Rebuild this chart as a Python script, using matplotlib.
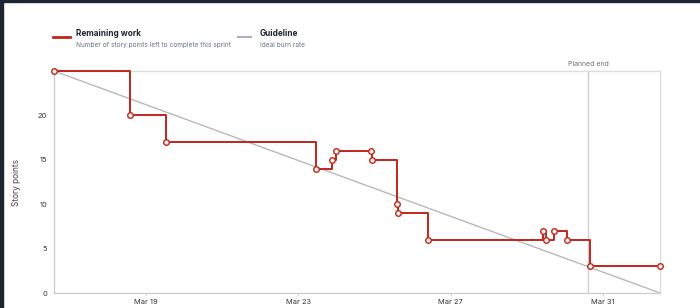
import matplotlib
matplotlib.use("Agg")
import matplotlib.pyplot as plt
import matplotlib.dates as mdates
from matplotlib.patches import Rectangle
from matplotlib.lines import Line2D
import numpy as np
from datetime import datetime, timedelta

# sprint data (days after Mar 16 00:00, story points)
sprint_start = datetime(2024, 3, 16)
work_days = [0.585, 2.58, 3.525, 7.45, 7.875, 7.99, 8.915, 8.93, 9.595, 9.61,
             10.40, 13.43, 13.49, 13.71, 14.06, 14.65, 16.49]
work_points = [25, 20, 17, 14, 15, 16, 16, 15, 10, 9, 6, 7, 6, 7, 6, 3, 3]
guide_days = [0.585, 16.49]
guide_points = [25, 0]
planned_end_day = 14.60
tick_dates = ["2024-03-19", "2024-03-23", "2024-03-27", "2024-03-31"]
y_ticks = [0, 5, 10, 15, 20]

red = "#c0261b"
grey_txt = "#6b7480"

plt.rcParams["font.family"] = ["Inter", "DejaVu Sans"]

def to_dt(d):
    return sprint_start + timedelta(days=d)

work_x = [to_dt(d) for d in work_days]
guide_x = [to_dt(d) for d in guide_days]

fig = plt.figure(figsize=(7, 3.08), dpi=100)
ax = fig.add_axes([54 / 700, 15 / 308, 606 / 700, 222 / 308])

ax.plot(guide_x, guide_points, color="#b8b8b8", lw=1.0, zorder=2)
ax.axvline(to_dt(planned_end_day), color="#d0d0d0", lw=1.0, zorder=1)
ax.plot(work_x, work_points, drawstyle="steps-post", color=red, lw=1.4,
        zorder=3, clip_on=False)
ax.plot(work_x, work_points, ls="none", marker="o", ms=4, mfc="#fdf1ee",
        mec=red, mew=1.0, zorder=4, clip_on=False)

ax.set_xlim(work_x[0], work_x[-1])
ax.set_ylim(0, 25)
ax.set_yticks(y_ticks)
ax.set_xticks([mdates.datestr2num(t) for t in tick_dates])
ax.xaxis.set_major_formatter(mdates.DateFormatter("%b %d"))
ax.tick_params(axis="both", labelsize=5.4, colors="#333333", length=2,
               width=0.6, pad=2)
ax.tick_params(axis="x", color="#cccccc")
ax.tick_params(axis="y", length=0, pad=5)
for s in ax.spines.values():
    s.set_color("#dddddd")
    s.set_linewidth(1.0)
ax.spines["left"].set_color("#cfcfcf")
ax.spines["bottom"].set_color("#cfcfcf")
ax.set_ylabel("Story points", fontsize=6, color="#444444", labelpad=12)

ax.text(to_dt(planned_end_day), 25.4, "Planned end", ha="center", va="bottom",
        fontsize=5.0, color=grey_txt)

# legend drawn by hand at the top
fig.add_artist(Line2D([53 / 700, 70 / 700], [1 - 37 / 308] * 2, color=red, lw=2,
                      transform=fig.transFigure))
fig.text(76 / 700, 1 - 34 / 308, "Remaining work", fontsize=5.9,
         fontweight="bold", color="#1d2530", va="center")
fig.text(76 / 700, 1 - 45 / 308,
         "Number of story points left to complete this sprint",
         fontsize=4.7, color=grey_txt, va="center")
fig.add_artist(Line2D([238 / 700, 251 / 700], [1 - 37 / 308] * 2,
                      color="#aab0c0", lw=1.5, transform=fig.transFigure))
fig.text(260 / 700, 1 - 34 / 308, "Guideline", fontsize=5.9,
         fontweight="bold", color="#1d2530", va="center")
fig.text(260 / 700, 1 - 45 / 308, "Ideal burn rate", fontsize=4.7,
         color=grey_txt, va="center")

# dark screenshot edges
fig.add_artist(Rectangle((0, 0), 3 / 700, 1, color="#1c2530",
                         transform=fig.transFigure))
fig.add_artist(Rectangle((0, 1 - 2 / 308), 1, 2 / 308, color="#1c2530",
                         transform=fig.transFigure))

fig.savefig("out.png", dpi=100)
